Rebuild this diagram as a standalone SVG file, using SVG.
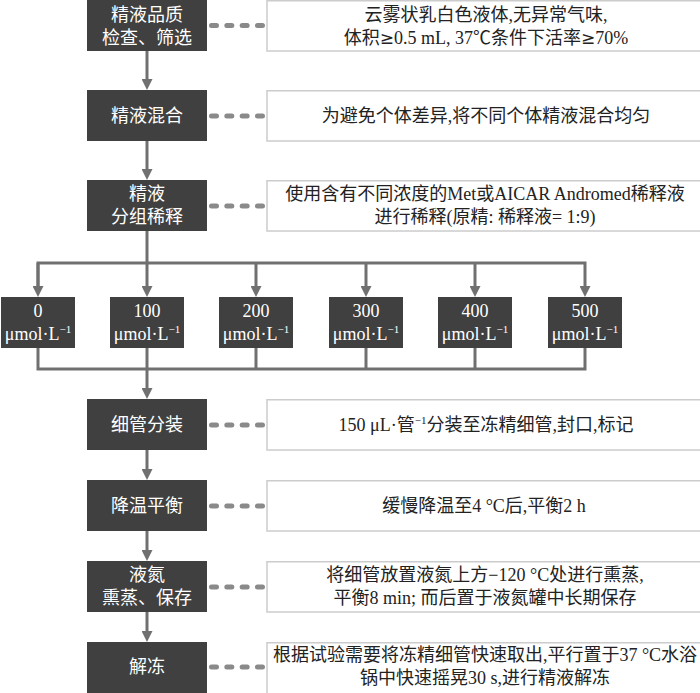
<svg xmlns="http://www.w3.org/2000/svg" width="700" height="693" viewBox="0 0 700 693">
<style>
.box{fill:#404040}
.note{fill:#ffffff;stroke:#cccccc;stroke-width:1.5}
.t{font-family:"Liberation Serif","Noto Sans CJK SC",serif;font-size:18px;text-anchor:middle}
.w{fill:#ffffff}
.k{fill:#222222}
.ln{fill:none;stroke:#707070;stroke-width:3}
.dot{fill:none;stroke:#8a8a8a;stroke-width:5;stroke-linecap:round;stroke-dasharray:5 10.33}
.sup{font-size:11px}
.ge{font-family:"DejaVu Sans",sans-serif;font-size:17px}
</style>
<defs>
<marker id="ah" markerUnits="userSpaceOnUse" markerWidth="11" markerHeight="11" refX="0" refY="5.5" orient="auto">
<path d="M0,0 L11,5.5 L0,11 z" fill="#707070"/>
</marker>
</defs>
<rect width="700" height="693" fill="#ffffff"/>

<g id="connectors">
<line class="ln" x1="147" y1="51" x2="147" y2="79" marker-end="url(#ah)"/>
<line class="ln" x1="147" y1="141" x2="147" y2="169" marker-end="url(#ah)"/>
<line class="ln" x1="147" y1="231" x2="147" y2="263"/>
<polyline class="ln" points="38,286 38,263 585,263 585,286" marker-end="url(#ah)"/>
<line class="ln" x1="38" y1="263" x2="38" y2="286" marker-end="url(#ah)"/>
<line class="ln" x1="147" y1="263" x2="147" y2="286" marker-end="url(#ah)"/>
<line class="ln" x1="256" y1="263" x2="256" y2="286" marker-end="url(#ah)"/>
<line class="ln" x1="366" y1="263" x2="366" y2="286" marker-end="url(#ah)"/>
<line class="ln" x1="475" y1="263" x2="475" y2="286" marker-end="url(#ah)"/>
<polyline class="ln" points="38,348 38,369 585,369 585,348"/>
<line class="ln" x1="147" y1="348" x2="147" y2="388" marker-end="url(#ah)"/>
<line class="ln" x1="256" y1="348" x2="256" y2="369"/>
<line class="ln" x1="366" y1="348" x2="366" y2="369"/>
<line class="ln" x1="475" y1="348" x2="475" y2="369"/>
<line class="ln" x1="147" y1="450" x2="147" y2="469" marker-end="url(#ah)"/>
<line class="ln" x1="147" y1="531" x2="147" y2="550" marker-end="url(#ah)"/>
<line class="ln" x1="147" y1="612" x2="147" y2="631" marker-end="url(#ah)"/>
<line class="dot" x1="211.5" y1="25.5" x2="262.5" y2="25.5"/>
<line class="dot" x1="211.5" y1="116" x2="262.5" y2="116"/>
<line class="dot" x1="211.5" y1="206" x2="262.5" y2="206"/>
<line class="dot" x1="211.5" y1="425" x2="262.5" y2="425"/>
<line class="dot" x1="211.5" y1="506" x2="262.5" y2="506"/>
<line class="dot" x1="211.5" y1="587" x2="262.5" y2="587"/>
<line class="dot" x1="211.5" y1="667" x2="262.5" y2="667"/>
</g>

<g id="n1">
<rect class="box" x="87" y="0" width="120" height="51"/>
<text class="t w" x="147" y="21">精液品质</text>
<text class="t w" x="147" y="44">检查、筛选</text>
</g>
<g id="d1">
<rect class="note" x="267" y="0.75" width="440" height="50.25"/>
<text class="t k" x="486" y="21">云雾状乳白色液体,无异常气味,</text>
<text class="t k" x="486" y="44">体积<tspan class="ge">≥</tspan>0.5 mL, 37℃条件下活率<tspan class="ge">≥</tspan>70%</text>
</g>

<g id="n2">
<rect class="box" x="87" y="90" width="120" height="51"/>
<text class="t w" x="147" y="122">精液混合</text>
</g>
<g id="d2">
<rect class="note" x="267" y="90.75" width="440" height="50.25"/>
<text class="t k" x="486" y="122">为避免个体差异,将不同个体精液混合均匀</text>
</g>

<g id="n3">
<rect class="box" x="87" y="180" width="120" height="51"/>
<text class="t w" x="147" y="200">精液</text>
<text class="t w" x="147" y="223">分组稀释</text>
</g>
<g id="d3">
<rect class="note" x="267" y="180.75" width="440" height="50.25"/>
<text class="t k" x="485" y="200">使用含有不同浓度的Met或AICAR Andromed稀释液</text>
<text class="t k" x="485" y="223">进行稀释(原精: 稀释液= 1:9)</text>
</g>

<g id="c0">
<rect class="box" x="1" y="297" width="74" height="51"/>
<text class="t w" x="38" y="317">0</text>
<text class="t w" x="38" y="340">μmol·L<tspan class="sup" dy="-7">−1</tspan></text>
</g>
<g id="c100">
<rect class="box" x="110" y="297" width="74" height="51"/>
<text class="t w" x="147" y="317">100</text>
<text class="t w" x="147" y="340">μmol·L<tspan class="sup" dy="-7">−1</tspan></text>
</g>
<g id="c200">
<rect class="box" x="219" y="297" width="74" height="51"/>
<text class="t w" x="256" y="317">200</text>
<text class="t w" x="256" y="340">μmol·L<tspan class="sup" dy="-7">−1</tspan></text>
</g>
<g id="c300">
<rect class="box" x="329" y="297" width="74" height="51"/>
<text class="t w" x="366" y="317">300</text>
<text class="t w" x="366" y="340">μmol·L<tspan class="sup" dy="-7">−1</tspan></text>
</g>
<g id="c400">
<rect class="box" x="438" y="297" width="74" height="51"/>
<text class="t w" x="475" y="317">400</text>
<text class="t w" x="475" y="340">μmol·L<tspan class="sup" dy="-7">−1</tspan></text>
</g>
<g id="c500">
<rect class="box" x="548" y="297" width="74" height="51"/>
<text class="t w" x="585" y="317">500</text>
<text class="t w" x="585" y="340">μmol·L<tspan class="sup" dy="-7">−1</tspan></text>
</g>

<g id="n4">
<rect class="box" x="87" y="399" width="120" height="51"/>
<text class="t w" x="147" y="431">细管分装</text>
</g>
<g id="d4">
<rect class="note" x="267" y="399.75" width="440" height="50.25"/>
<text class="t k" x="486" y="431">150 μL·管<tspan class="sup" dy="-7">−1</tspan><tspan dy="7">分装至冻精细管,封口,标记</tspan></text>
</g>

<g id="n5">
<rect class="box" x="87" y="480" width="120" height="51"/>
<text class="t w" x="147" y="512">降温平衡</text>
</g>
<g id="d5">
<rect class="note" x="267" y="480.75" width="440" height="50.25"/>
<text class="t k" x="484" y="512">缓慢降温至4 °C后,平衡2 h</text>
</g>

<g id="n6">
<rect class="box" x="87" y="561" width="120" height="51"/>
<text class="t w" x="147" y="581">液氮</text>
<text class="t w" x="147" y="604">熏蒸、保存</text>
</g>
<g id="d6">
<rect class="note" x="267" y="561.75" width="440" height="50.25"/>
<text class="t k" x="485" y="581">将细管放置液氮上方−120 °C处进行熏蒸,</text>
<text class="t k" x="485" y="604">平衡8 min; 而后置于液氮罐中长期保存</text>
</g>

<g id="n7">
<rect class="box" x="87" y="642" width="120" height="51"/>
<text class="t w" x="147" y="673">解冻</text>
</g>
<g id="d7">
<rect class="note" x="267" y="642.75" width="440" height="52"/>
<text class="t k" x="485" y="661">根据试验需要将冻精细管快速取出,平行置于37 °C水浴</text>
<text class="t k" x="485" y="684">锅中快速摇晃30 s,进行精液解冻</text>
</g>
</svg>
